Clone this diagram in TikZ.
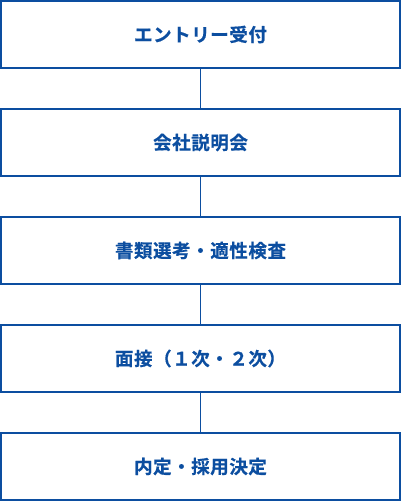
\documentclass[tikz,border=0pt]{standalone}
\usepackage{fontspec}
\newfontfamily\jpfont[LetterSpace=3,FakeBold=0.6]{Noto Sans CJK JP Bold}
\definecolor{bl}{HTML}{0C4EA0}
\begin{document}
\begin{tikzpicture}[x=1pt,y=-1pt,
  stepbox/.style={draw=bl,line width=1.5pt,minimum width=399pt,minimum height=67pt,inner sep=0pt,text=bl,font=\jpfont\fontsize{18.5}{20}\selectfont},
  link/.style={draw=bl,line width=1.3pt}]
\useasboundingbox (0,0) rectangle (401,502);
\node[stepbox] (a) at (200.5,34.5) {エントリー受付};
\node[stepbox] (b) at (200.5,142.5) {会社説明会};
\node[stepbox] (c) at (200.5,250.5) {書類選考・適性検査};
\node[stepbox] (d) at (200.5,358.5) {面接（１次・２次）};
\node[stepbox] (e) at (200.5,466.5) {内定・採用決定};
\draw[link] (a) -- (b);
\draw[link] (b) -- (c);
\draw[link] (c) -- (d);
\draw[link] (d) -- (e);
\end{tikzpicture}
\end{document}
